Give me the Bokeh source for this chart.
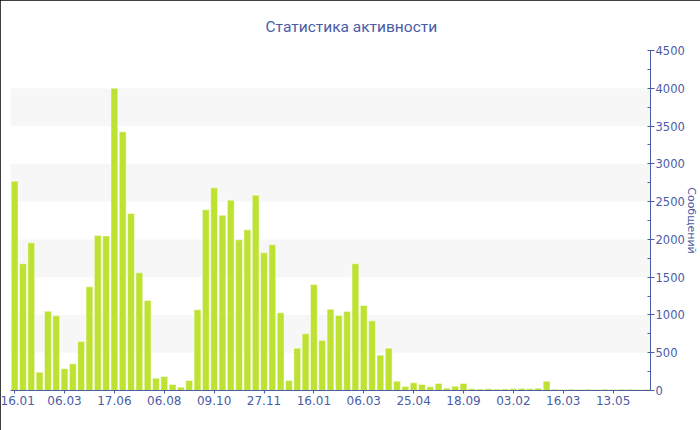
from bokeh.plotting import figure
from bokeh.models import Range1d, FixedTicker, SingleIntervalTicker, BoxAnnotation, ColumnDataSource
from bokeh.embed import file_html
from bokeh.resources import INLINE

# ---- data ----
title_text = "Статистика активности"
y_label = "Сообщений"
values = [2770, 1677, 1954, 243, 1050, 988, 287, 353, 648, 1372,
          2051, 2045, 4000, 3424, 2343, 1557, 1191, 163, 185, 79,
          44, 132, 1068, 2391, 2682, 2320, 2519, 1994, 2126, 2585,
          1822, 1928, 1028, 132, 560, 750, 1403, 662, 1076, 993,
          1046, 1677, 1125, 922, 468, 560, 123, 53, 101, 79,
          49, 93, 31, 57, 93, 22, 20, 22, 18, 20,
          22, 26, 22, 31, 123, 15, 13, 15, 14, 16,
          13, 15, 14, 15, 16, 14, 15]
tick_labels = ["16.01", "06.03", "17.06", "06.08", "09.10", "27.11", "16.01",
               "06.03", "25.04", "18.09", "03.02", "16.03", "13.05"]
tick_step = 6
y_max = 4500

# ---- styles ----
BLUE = "#4a5ca6"
BAR = "#bde232"
FONT = "DejaVu Sans"

W, H = 700, 430

idx = list(range(len(values)))
src = ColumnDataSource(dict(x=idx, top=values))

p = figure(width=W, height=H, output_backend="svg", toolbar_location=None,
           x_range=Range1d(-0.5, len(values) - 0.5), y_range=Range1d(0, y_max),
           y_axis_location="right", min_border_left=10, min_border_top=50,
           min_border_bottom=40, min_border_right=49)
p.outline_line_color = None
p.background_fill_color = "white"
p.border_fill_color = "white"
p.styles = {"outline": "1px solid black", "outline-offset": "-1px"}

p.title.text = title_text
p.title.align = "left"
p.title.offset = 255
p.title.text_font = "Roboto"
p.title.text_font_size = "15.5px"
p.title.text_font_style = "normal"
p.title.text_color = BLUE
p.title.standoff = 29

for lo in range(500, y_max, 1000):
    p.add_layout(BoxAnnotation(bottom=lo, top=lo + 500, fill_color="#f7f7f7",
                               fill_alpha=1.0, line_color=None, level="underlay"))

p.vbar(x="x", top="top", width=0.82, source=src, fill_color=BAR,
       line_color="white", line_alpha=0.45, line_width=1)

p.xgrid.grid_line_color = None
p.ygrid.grid_line_color = None

xa = p.xaxis[0]
xa.ticker = FixedTicker(ticks=[i * tick_step for i in range(len(tick_labels))])
xa.major_label_overrides = {i * tick_step: lab for i, lab in enumerate(tick_labels)}
xa.axis_line_color = BLUE
xa.major_tick_line_color = BLUE
xa.major_tick_in = 0
xa.major_tick_out = 3
xa.minor_tick_line_color = None
xa.major_label_text_color = BLUE
xa.major_label_text_font = FONT
xa.major_label_text_font_size = "12px"
xa.major_label_standoff = 2

ya = p.yaxis[0]
ya.ticker = SingleIntervalTicker(interval=500, num_minor_ticks=2)
ya.axis_line_color = BLUE
ya.major_tick_line_color = BLUE
ya.minor_tick_line_color = BLUE
ya.major_tick_in = 0
ya.major_tick_out = 4
ya.minor_tick_in = 3
ya.minor_tick_out = 0
ya.major_label_text_color = BLUE
ya.major_label_text_font = FONT
ya.major_label_text_font_size = "11.5px"
ya.major_label_standoff = 1
ya.axis_label = y_label
ya.axis_label_text_color = BLUE
ya.axis_label_text_font = FONT
ya.axis_label_text_font_size = "11px"
ya.axis_label_text_font_style = "normal"
ya.axis_label_standoff = -3

open("out.html", "w").write(file_html(p, INLINE))
